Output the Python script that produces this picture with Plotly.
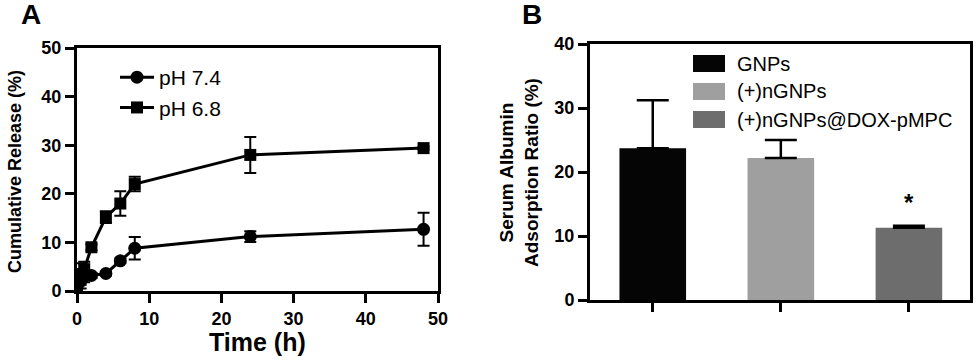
import plotly.graph_objects as go

# ---- Panel A data ----
time_h = [0, 0.5, 1, 2, 4, 6, 8, 24, 48]
ph74 = [1.0, 2.0, 3.0, 3.2, 3.6, 6.2, 8.8, 11.2, 12.7]
ph74_err = [0.5, 1.5, 1.2, 0.5, 0.4, 0.5, 2.3, 1.1, 3.4]
ph68 = [1.0, 3.5, 4.5, 9.0, 15.2, 18.0, 22.0, 28.0, 29.4]
ph68_err = [0.5, 2.2, 1.5, 0.6, 1.2, 2.5, 1.5, 3.7, 0.3]

# ---- Panel B data ----
groups = ["GNPs", "(+)nGNPs", "(+)nGNPs@DOX-pMPC"]
adsorption = [23.7, 22.2, 11.3]
adsorption_err = [7.5, 2.8, 0.3]
bar_colors = ["#050505", "#9f9f9f", "#6d6d6d"]

FONT = "Liberation Sans, Arial, sans-serif"
W, H = 979, 363

fig = go.Figure()

fig.add_trace(go.Scatter(
    x=time_h, y=ph74, name="pH 7.4", mode="lines+markers",
    line=dict(color="black", width=3),
    marker=dict(symbol="circle", size=13, color="black"),
    error_y=dict(type="data", array=ph74_err, color="black", thickness=2, width=6),
    xaxis="x", yaxis="y", legend="legend"))
fig.add_trace(go.Scatter(
    x=time_h, y=ph68, name="pH 6.8", mode="lines+markers",
    line=dict(color="black", width=3),
    marker=dict(symbol="square", size=12, color="black"),
    error_y=dict(type="data", array=ph68_err, color="black", thickness=2, width=6),
    xaxis="x", yaxis="y", legend="legend"))

for i, g in enumerate(groups):
    fig.add_trace(go.Bar(
        x=[i], y=[adsorption[i]], name=g, width=0.52,
        marker=dict(color=bar_colors[i], line=dict(width=0)),
        error_y=dict(type="data", array=[adsorption_err[i]], arrayminus=[0],
                     symmetric=False, color="black", thickness=2.5, width=16),
        xaxis="x2", yaxis="y2", showlegend=False))

axis_common = dict(showline=True, linecolor="black", linewidth=3, mirror=True,
                   ticks="outside", tickcolor="black", tickwidth=3, ticklen=9,
                   showgrid=False, zeroline=False, automargin=False,
                   tickfont=dict(family=FONT, size=18, color="black", weight="bold"))

fig.update_layout(
    width=W, height=H, margin=dict(l=0, r=0, t=0, b=0, autoexpand=False),
    paper_bgcolor="white", plot_bgcolor="white",
    font=dict(family=FONT, color="black"),
    xaxis=dict(domain=[77/W, 438/W], range=[0, 50], tickvals=[0, 10, 20, 30, 40, 50],
               anchor="y", **axis_common),
    yaxis=dict(domain=[1-291/H, 1-48/H], range=[0, 50], tickvals=[0, 10, 20, 30, 40, 50],
               anchor="x", **axis_common),
    xaxis2=dict(domain=[590/W, 970/W], range=[-0.49, 2.477], tickvals=[0, 1, 2],
                showticklabels=False, anchor="y2", **axis_common),
    yaxis2=dict(domain=[1-300/H, 1-44/H], range=[0, 40], tickvals=[0, 10, 20, 30, 40],
                anchor="x2", **axis_common),
    legend=dict(x=115/W, y=1-57/H, xanchor="left", yanchor="top",
                bgcolor="rgba(0,0,0,0)", font=dict(family=FONT, size=21, color="black"),
                tracegroupgap=0, itemwidth=34),
    showlegend=True,
)

# Manual legend for panel B (wide swatches)
legend_rows = [63.5, 91.5, 119.5]
for i, g in enumerate(groups):
    yc = legend_rows[i]
    fig.add_shape(type="rect", xref="paper", yref="paper",
                  x0=693/W, x1=725/W, y0=1-(yc+8.5)/H, y1=1-(yc-8.5)/H,
                  fillcolor=bar_colors[i], line=dict(width=0))
    fig.add_annotation(x=735/W, y=1-yc/H, xref="paper", yref="paper", text=g,
                       showarrow=False, xanchor="left", yanchor="middle",
                       font=dict(family=FONT, size=20, color="black"))

# significance asterisk
fig.add_annotation(x=2, y=adsorption[2] + 4.0, xref="x2", yref="y2", text="*",
                   showarrow=False, xanchor="center", yanchor="middle",
                   font=dict(family=FONT, size=24, color="black", weight="bold"))

# axis titles
fig.add_annotation(x=15/W, y=1-172/H, xref="paper", yref="paper",
                   text="Cumulative Release (%)", textangle=-90, showarrow=False,
                   xanchor="center", yanchor="middle",
                   font=dict(family=FONT, size=18, color="black", weight="bold"))
fig.add_annotation(x=257/W, y=1-342/H, xref="paper", yref="paper",
                   text="Time (h)", showarrow=False, xanchor="center", yanchor="middle",
                   font=dict(family=FONT, size=25, color="black", weight="bold"))
fig.add_annotation(x=519/W, y=1-173/H, xref="paper", yref="paper",
                   text="Serum Albumin<br>Adsorption Ratio (%)", textangle=-90, showarrow=False,
                   xanchor="center", yanchor="middle",
                   font=dict(family=FONT, size=19, color="black", weight="bold"))

# panel labels
fig.add_annotation(x=31/W, y=1-15/H, xref="paper", yref="paper", text="A",
                   showarrow=False, xanchor="center", yanchor="middle",
                   font=dict(family=FONT, size=28, color="black", weight="bold"))
fig.add_annotation(x=532/W, y=1-15/H, xref="paper", yref="paper", text="B",
                   showarrow=False, xanchor="center", yanchor="middle",
                   font=dict(family=FONT, size=28, color="black", weight="bold"))

fig.write_html("out.html", config={"displayModeBar": False},
               post_script="document.body.style.margin='0';document.body.style.overflow='hidden';")
